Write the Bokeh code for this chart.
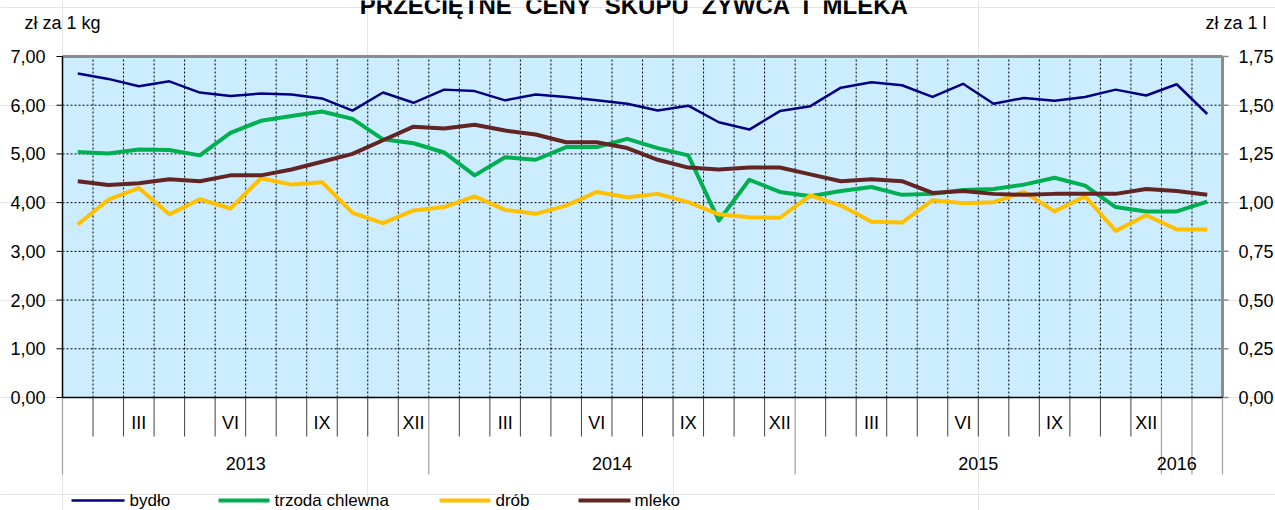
from bokeh.plotting import figure
from bokeh.models import Range1d
from bokeh.core.properties import value
from bokeh.embed import file_html
from bokeh.resources import INLINE

# ---------------- data ----------------
months_roman = ["I", "II", "III", "IV", "V", "VI", "VII", "VIII", "IX", "X", "XI", "XII"]
years = ["2013", "2014", "2015", "2016"]
month_labels = ["III", "VI", "IX", "XII"]

bydlo = [6.65, 6.54, 6.39, 6.49, 6.26, 6.19, 6.24, 6.22, 6.14, 5.89, 6.26, 6.05,
         6.32, 6.29, 6.10, 6.22, 6.17, 6.10, 6.03, 5.89, 5.99, 5.65, 5.50, 5.88,
         5.98, 6.36, 6.47, 6.41, 6.17, 6.44, 6.03, 6.15, 6.09, 6.17, 6.32, 6.20,
         6.43, 5.82]
trzoda = [5.04, 5.01, 5.09, 5.08, 4.97, 5.43, 5.68, 5.78, 5.87, 5.72, 5.30, 5.22,
          5.03, 4.56, 4.93, 4.88, 5.14, 5.14, 5.31, 5.12, 4.97, 3.63, 4.47, 4.22,
          4.13, 4.24, 4.32, 4.16, 4.18, 4.26, 4.28, 4.37, 4.51, 4.35, 3.91, 3.82,
          3.82, 4.02]
drob = [3.55, 4.06, 4.30, 3.76, 4.07, 3.88, 4.50, 4.37, 4.42, 3.79, 3.58, 3.84,
        3.91, 4.13, 3.85, 3.77, 3.94, 4.22, 4.11, 4.18, 4.01, 3.76, 3.70, 3.69,
        4.15, 3.94, 3.61, 3.59, 4.05, 3.99, 4.01, 4.22, 3.82, 4.13, 3.42, 3.74,
        3.45, 3.45]
mleko = [1.11, 1.09, 1.10, 1.12, 1.11, 1.14, 1.14, 1.17, 1.21, 1.25, 1.32, 1.39,
         1.38, 1.40, 1.37, 1.35, 1.31, 1.31, 1.28, 1.22, 1.18, 1.17, 1.18, 1.18,
         1.145, 1.11, 1.12, 1.11, 1.05, 1.06, 1.045, 1.04, 1.045, 1.045, 1.045, 1.07,
         1.06, 1.04]
series_names = ["bydło", "trzoda chlewna", "drób", "mleko"]
series_colors = ["#000080", "#00B050", "#FFC000", "#632523"]

left_ticks = [0, 1, 2, 3, 4, 5, 6, 7]
right_ticks = [0, 0.25, 0.5, 0.75, 1.0, 1.25, 1.5, 1.75]
NB = "\u00a0"
title_words = ["PRZECIĘTNE", "CENY", "SKUPU", "ŻYWCA", "I", "MLEKA"]
title_text = (" " + NB).join(title_words)

# ---------------- layout ----------------
N = len(bydlo)
W, H = 1275, 510
PL, PR, PT, PB = 62, 1222, 56, 397          # plot-area edges in canvas px
YMAX = 7.0
RMAX = 1.75
PX = (PR - PL) / N
PY = (PB - PT) / YMAX


def X(px):
    return (px - PL) / PX


def Y(py):
    return (PB - py) / PY


FONT = "Liberation Sans"
FS = "18px"

p = figure(width=W, height=H, output_backend="svg", toolbar_location=None,
           x_range=Range1d(X(0), X(W)), y_range=Range1d(Y(H), Y(0)),
           x_axis_location=None, y_axis_location=None,
           min_border=0, min_border_left=0, min_border_right=0,
           min_border_top=0, min_border_bottom=0,
           background_fill_color="white", border_fill_color="white",
           outline_line_color=None)
p.extra_y_ranges = {"r": Range1d(Y(H) * RMAX / YMAX, Y(0) * RMAX / YMAX)}


def txt(x, y, t, align="center", baseline="middle", size=FS, style="normal"):
    p.text(x=x, y=y, text=t, text_align=align, text_baseline=baseline,
           text_font=value(FONT), text_font_size=value(size),
           text_font_style=style, text_color="black")


# plot area background
p.quad(left=0, right=N, bottom=0, top=YMAX, fill_color="#CCECFF", line_color=None)

# dashed grid
hg = left_ticks[1:-1]
p.segment(x0=[0] * len(hg), x1=[N] * len(hg), y0=hg, y1=hg,
          line_color="black", line_width=1, line_dash="2 2")
vgx = list(range(1, N))
p.segment(x0=vgx, x1=vgx, y0=[0] * len(vgx), y1=[YMAX] * len(vgx),
          line_color="black", line_width=1, line_dash="2 2")

# frame borders (top / right grey, left / bottom black axis lines)
p.segment(x0=[0], x1=[N], y0=[YMAX], y1=[YMAX], line_color="#8C8C8C", line_width=3)
p.segment(x0=[N], x1=[N], y0=[0], y1=[YMAX], line_color="#8C8C8C", line_width=3)
p.segment(x0=[0], x1=[0], y0=[0], y1=[YMAX], line_color="black", line_width=1.5)

# left value axis
tick = 6 / PX
p.segment(x0=[0] * len(left_ticks), x1=[-tick] * len(left_ticks), y0=left_ticks,
          y1=left_ticks, line_color="black", line_width=1)
txt([X(45)] * len(left_ticks), left_ticks, [f"{t},00" for t in left_ticks], align="right")

# right value axis (zł za 1 l)
p.segment(x0=[N] * len(right_ticks), x1=[N + tick] * len(right_ticks), y0=right_ticks,
          y1=right_ticks, line_color="#8C8C8C", line_width=1.5, y_range_name="r")
p.text(x=[X(1238)] * len(right_ticks), y=right_ticks,
       text=[f"{t:.2f}".replace(".", ",") for t in right_ticks],
       text_align="left", text_baseline="middle", text_font=value(FONT),
       text_font_size=value(FS), text_color="black", y_range_name="r")

# series
xs = [i + 0.5 for i in range(N)]
p.line(xs, bydlo, line_color=series_colors[0], line_width=2.5, line_join="round")
p.line(xs, trzoda, line_color=series_colors[1], line_width=4, line_join="round")
p.line(xs, drob, line_color=series_colors[2], line_width=4, line_join="round")
p.line(xs, mleko, line_color=series_colors[3], line_width=4, line_join="round",
       y_range_name="r")

# category axis: month separators, year separators, labels
long_x = [0, 12, 24, 36, 37, 38]
short_x = [i for i in range(1, N) if i not in long_x]
p.segment(x0=short_x, x1=short_x, y0=[0] * len(short_x), y1=[Y(436)] * len(short_x),
          line_color="#404040", line_width=1)
p.segment(x0=long_x, x1=long_x, y0=[0] * len(long_x), y1=[Y(474)] * len(long_x),
          line_color="#A0A0A0", line_width=1.2)
p.segment(x0=[0], x1=[N], y0=[0], y1=[0], line_color="black", line_width=1.5)

ml_x, ml_t = [], []
for yi in range(3):
    for m in month_labels:
        ml_x.append(yi * 12 + months_roman.index(m) + 0.5)
        ml_t.append(m)
txt(ml_x, [Y(422)] * len(ml_x), ml_t)
txt([6, 18, 30, 36.5], [Y(463)] * 4, years)

# units and title
txt([X(24)], [Y(22)], ["zł za 1 kg"], align="left")
txt([X(1266)], [Y(22)], ["zł za 1 l"], align="right")
txt([X(634)], [Y(5)], [title_text], baseline="alphabetic", size="24px", style="bold")

# legend along the bottom
leg_y = Y(500)
leg_lines = [(71, 124), (218, 269), (439, 490), (578, 630)]
leg_text = [129, 274, 495, 634]
leg_w = [2.5, 4, 4, 4]
for (a, b), tx, name, col, lw in zip(leg_lines, leg_text, series_names, series_colors, leg_w):
    p.segment(x0=[X(a)], x1=[X(b)], y0=[leg_y], y1=[leg_y], line_color=col, line_width=lw)
    txt([X(tx)], [leg_y], [name], align="left", size="17px")

open("out.html", "w").write(file_html(p, INLINE))
